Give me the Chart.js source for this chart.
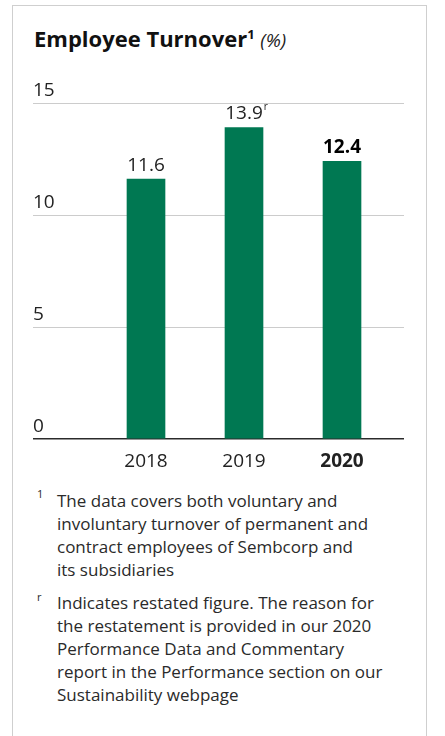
<!DOCTYPE html>
<html>
<head>
<meta charset="utf-8">
<script src="https://cdn.jsdelivr.net/npm/chart.js@4"></script>
<style>
  body { margin: 0; background: #fff; font-family: "Open Sans", sans-serif; }
  #frame { position: absolute; left: 12px; top: 5px; width: 413px; height: 760px;
           border: 1.5px solid #cfcfcf; border-bottom: none; }
  #title { position: absolute; left: 34px; top: 27px; font-size: 22px; line-height: 1;
           font-weight: bold; color: #111; white-space: nowrap; }
  #title sup { font-size: 13px; vertical-align: 8px; line-height: 0; }
  #title i { font-weight: normal; font-size: 19px; color: #222; }
  #chart { position: absolute; left: 0; top: 60px; }
  .note { position: absolute; left: 57px; font-size: 17px; line-height: 23px; color: #2a2a2a; white-space: nowrap; }
  .mark { position: absolute; left: 37px; font-size: 11px; color: #2a2a2a; }
</style>
</head>
<body>
<div id="frame"></div>
<div id="title">Employee Turnover<sup>1</sup> <i>(%)</i></div>
<canvas id="chart" width="445" height="420"></canvas>
<span class="mark" style="top:486px">1</span>
<div class="note" style="top:489px">The data covers both voluntary and<br>involuntary turnover of permanent and<br>contract employees of Sembcorp and<br>its subsidiaries</div>
<span class="mark" style="top:589px">r</span>
<div class="note" style="top:591px">Indicates restated figure. The reason for<br>the restatement is provided in our 2020<br>Performance Data and Commentary<br>report in the Performance section on our<br>Sustainability webpage</div>
<script>
var years = ['2018', '2019', '2020'];
var turnover = [11.6, 13.9, 12.4];
var restated = [false, true, false];
var yTicks = [0, 5, 10, 15];

var green = '#007852';

function gridColor(c) {
  return c.tick && c.tick.value === 0 ? '#2b2b2b' : '#cccccc';
}

// values above the bars, bold for latest year, "r" for restated
var barLabels = {
  id: 'barLabels',
  afterDatasetsDraw: function (chart) {
    var ctx = chart.ctx;
    var meta = chart.getDatasetMeta(0);
    meta.data.forEach(function (bar, i) {
      var txt = turnover[i].toFixed(1);
      var last = i === years.length - 1;
      ctx.save();
      ctx.font = (last ? 'bold ' : '') + '19px "Open Sans"';
      ctx.fillStyle = last ? '#000' : '#222';
      ctx.textAlign = 'center';
      ctx.textBaseline = 'middle';
      ctx.fillText(txt, bar.x, bar.y - 14);
      if (restated[i]) {
        var w = ctx.measureText(txt).width;
        ctx.font = '10px "Open Sans"';
        ctx.textAlign = 'left';
        ctx.fillText('r', bar.x + w / 2 + 1, bar.y - 20);
      }
      ctx.restore();
    });
  }
};

new Chart(document.getElementById('chart'), {
  type: 'bar',
  data: {
    labels: years,
    datasets: [{
      data: turnover,
      backgroundColor: green,
      barThickness: 38
    }]
  },
  options: {
    responsive: false,
    animation: false,
    layout: { padding: { left: 33, right: 41, top: 43, bottom: 0 } },
    plugins: { legend: { display: false }, tooltip: { enabled: false } },
    scales: {
      x: {
        grid: { display: false },
        border: { display: false },
        ticks: {
          padding: 3,
          color: '#222',
          font: function (c) {
            return { family: 'Open Sans', size: 19, weight: c.index === years.length - 1 ? 'bold' : 'normal' };
          }
        },
        afterFit: function (s) { s.height = 41; }
      },
      y: {
        min: yTicks[0],
        max: yTicks[yTicks.length - 1],
        afterBuildTicks: function (s) { s.ticks = yTicks.map(function (v) { return { value: v }; }); },
        grid: { color: gridColor, lineWidth: function (c) { return c.tick && c.tick.value === 0 ? 1.5 : 1; }, tickLength: 64 },
        border: { display: false },
        ticks: {
          crossAlign: 'far',
          labelOffset: -12,
          color: '#222',
          font: { family: 'Open Sans', size: 19 }
        },
        afterFit: function (s) { s.width = 64; }
      },
      y2: {
        position: 'right',
        min: yTicks[0],
        max: yTicks[yTicks.length - 1],
        afterBuildTicks: function (s) { s.ticks = yTicks.map(function (v) { return { value: v }; }); },
        grid: { color: gridColor, lineWidth: function (c) { return c.tick && c.tick.value === 0 ? 1.5 : 1; }, drawOnChartArea: false, tickLength: 13 },
        border: { display: false },
        ticks: { display: false },
        afterFit: function (s) { s.width = 13; }
      }
    }
  },
  plugins: [barLabels]
});
</script>
</body>
</html>
